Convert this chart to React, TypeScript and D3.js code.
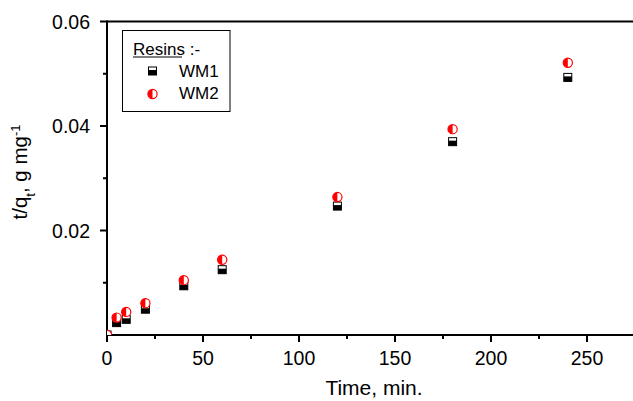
import React from "react";
import * as d3 from "d3";

const times = [0, 5, 10, 20, 40, 60, 120, 180, 240];
const wm1 = [0, 0.00237, 0.0030, 0.00494, 0.00942, 0.0125, 0.02467, 0.0370, 0.0493];
const wm2 = [0, 0.00333, 0.00442, 0.0061, 0.0105, 0.0144, 0.0264, 0.0394, 0.0521];
const xMajor = [0, 50, 100, 150, 200, 250];
const xMinor = [25, 75, 125, 175, 225, 275];
const yMajor = [0.02, 0.04, 0.06];
const yMinor = [0.01, 0.03, 0.05];

const W = 633, H = 401;
const font = "'Liberation Sans', Arial, sans-serif";

function Square({ x, y }: { x: number; y: number }) {
  const s = 8;
  return (
    <g>
      <rect x={x - s / 2} y={y - s / 2} width={s} height={s} fill="#fff" stroke="#000" strokeWidth={1} />
      <rect x={x - s / 2} y={y - s / 2 + 3} width={s} height={s - 3} fill="#000" />
    </g>
  );
}

function HalfCircle({ x, y }: { x: number; y: number }) {
  const r = 4.6;
  const path = d3.path();
  path.moveTo(x, y - r);
  path.arc(x, y, r, -Math.PI / 2, Math.PI / 2, true);
  path.closePath();
  return (
    <g>
      <circle cx={x} cy={y} r={r} fill="#fff" stroke="#ff0000" strokeWidth={1.2} />
      <path d={path.toString()} fill="#ff0000" />
    </g>
  );
}

export default function App() {
  const x = d3.scaleLinear().domain([0, 275]).range([107, 635]);
  const y = d3.scaleLinear().domain([0, 0.06]).range([335, 21.5]);
  const x0 = x(0), yb = y(0), yt = y(0.06);

  return (
    <div style={{ position: "absolute", left: 0, top: 0 }}>
      <svg width={W} height={H} style={{ display: "block", background: "#fff" }} fontFamily={font}>
        <defs>
          <clipPath id="plot">
            <rect x={x0} y={yt - 10} width={W - x0} height={yb - yt + 10} />
          </clipPath>
        </defs>
        {/* frame */}
        <line x1={x0} x2={W} y1={yt} y2={yt} stroke="#000" strokeWidth={2} />
        <line x1={x0 - 1} x2={W} y1={yb} y2={yb} stroke="#000" strokeWidth={2} />
        <line x1={x0} x2={x0} y1={yt - 1} y2={yb + 1} stroke="#000" strokeWidth={2} />

        {/* x ticks */}
        {xMajor.map((t) => (
          <g key={"xm" + t}>
            <line x1={x(t)} x2={x(t)} y1={yb} y2={yb + 7} stroke="#000" strokeWidth={2} />
            <text x={x(t)} y={365} textAnchor="middle" fontSize={19.5}>{t}</text>
          </g>
        ))}
        {xMinor.map((t) => (
          <line key={"xn" + t} x1={x(t)} x2={x(t)} y1={yb} y2={yb + 4} stroke="#000" strokeWidth={2} />
        ))}
        {/* y ticks */}
        {yMajor.map((t) => (
          <g key={"ym" + t}>
            <line x1={x0} x2={x0 - 7} y1={y(t)} y2={y(t)} stroke="#000" strokeWidth={2} />
            <text x={90} y={y(t) + 7} textAnchor="end" fontSize={19.5}>{t.toFixed(2)}</text>
          </g>
        ))}
        {yMinor.map((t) => (
          <line key={"yn" + t} x1={x0} x2={x0 - 4} y1={y(t)} y2={y(t)} stroke="#000" strokeWidth={2} />
        ))}

        {/* axis titles */}
        <text x={374} y={395} textAnchor="middle" fontSize={21}>Time, min.</text>
        <text transform="translate(27,172) rotate(-90)" textAnchor="middle" fontSize={20.5}>
          t/q<tspan baselineShift="sub" fontSize={13}>t</tspan>
          <tspan>, g mg</tspan>
          <tspan baselineShift="super" fontSize={13}>-1</tspan>
        </text>

        {/* data */}
        <g clipPath="url(#plot)">
          {times.map((t, i) => (
            <Square key={"a" + i} x={x(t)} y={y(wm1[i])} />
          ))}
          {times.map((t, i) => (
            <HalfCircle key={"b" + i} x={x(t)} y={y(wm2[i])} />
          ))}
        </g>

        {/* legend */}
        <rect x={122.5} y={30.5} width={107.5} height={81} fill="#fff" stroke="#000" strokeWidth={1} />
        <text x={133} y={55} fontSize={17}>
          <tspan>Resins</tspan>
          <tspan> :-</tspan>
        </text>
        <line x1={133} x2={182} y1={57} y2={57} stroke="#000" strokeWidth={1.2} />
        <Square x={152.5} y={71} />
        <text x={179} y={77} fontSize={17}>WM1</text>
        <HalfCircle x={152.5} y={94} />
        <text x={179} y={99} fontSize={17}>WM2</text>
      </svg>
    </div>
  );
}
